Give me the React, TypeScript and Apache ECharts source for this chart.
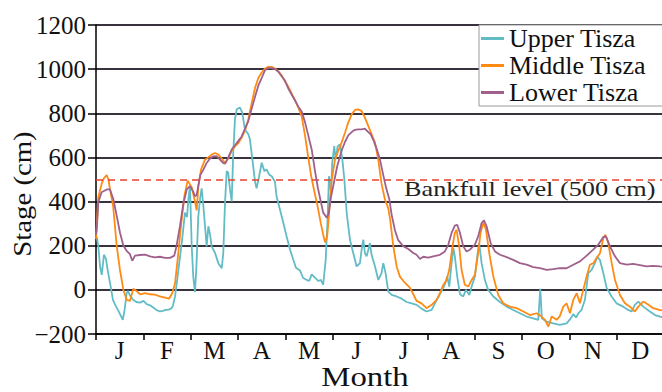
import React, { useEffect, useRef } from "react";
import * as echarts from "echarts";

// ---- data ----
const months = ["J", "F", "M", "A", "M", "J", "J", "A", "S", "O", "N", "D"];
const seriesNames = ["Upper Tisza", "Middle Tisza", "Lower Tisza"];
const yMin = -200;
const yMax = 1200;
const yStep = 200;
const bankfullLevel = 500;
const bankfullLabel = "Bankfull level (500 cm)";
const yAxisTitle = "Stage (cm)";
const xAxisTitle = "Month";

// [day of year, stage in cm]
const upperTisza: [number, number][] = [
  [0.5, 240], [1.5, 197], [2.6, 106], [3.7, 68], [5.1, 159], [6.4, 140], [7.5, 90], [9, 32],
  [10.9, -45], [12.5, -70], [14.1, -91], [16, -118], [17.2, -136], [18.4, -90], [19.7, -15],
  [20.5, -5], [21.8, -25], [23.8, -45], [26, -55], [28.3, -58], [30.5, -50], [32.6, -65],
  [34.7, -70], [36.8, -80], [39, -92], [41.1, -98], [43, -95], [44.3, -92], [46.5, -90],
  [48.6, -83], [49.5, -70], [50.8, -30], [52.7, 76], [55.1, 212], [57.2, 350], [58.5, 330],
  [59.5, 420], [60.4, 470], [61.5, 200], [62.5, 60], [63.6, -10], [64.5, 100], [65.7, 330],
  [67, 420], [67.9, 460], [69, 380], [71.1, 197], [72.2, 288], [73.3, 250], [74.3, 197],
  [76.5, 167], [78.6, 121], [80.8, 98], [81.8, 167], [82.9, 394], [84, 538], [85, 530],
  [86.1, 455], [87.2, 401], [88.2, 621], [89.3, 773], [90.4, 818], [92.5, 826], [94, 803],
  [95.7, 727], [97.9, 705], [98.9, 682], [100.5, 591], [102.2, 490], [103.2, 460], [104.7, 510],
  [106.5, 576], [108.2, 538], [109.7, 545], [111.2, 523], [112.9, 515], [115, 490], [116, 424],
  [118.2, 364], [120.4, 303], [122.5, 242], [124.7, 182], [126.8, 136], [128.5, 100], [131.1, 88],
  [133, 55], [135.4, 45], [137, 40], [138.6, 70], [140.7, 55], [142.9, 40], [144.5, 45],
  [146, 23], [147.6, 136], [148.8, 318], [149.7, 515], [151, 440], [151.8, 576], [153.1, 651],
  [154, 591], [155.3, 651], [156.8, 659], [158.3, 591], [159.6, 500], [161.1, 348], [163.2, 227],
  [165.3, 167], [167.5, 106], [169.6, 121], [170.7, 182], [171.8, 227], [172.8, 167], [173.9, 152],
  [175, 182], [176, 212], [177.1, 159], [179.3, 106], [181.4, 45], [183.5, 76], [184.6, 121],
  [186.1, 76], [187.8, -8], [190, -23], [193.2, -30], [196.4, -40], [199.6, -55], [202.8, -61],
  [206, -68], [209.2, -85], [212.4, -98], [215.7, -91], [217.8, -61], [221, -20], [224.2, 25],
  [225.7, 61], [227, 15], [228.5, 121], [229.6, 190], [230.6, 152], [232.1, 61], [233.9, -20],
  [236, -30], [237.7, 0], [239.9, -23], [241.4, 15], [243.5, 61], [245, 152], [246.2, 212],
  [247.8, 121], [249.9, 45], [252, 0], [255.3, -30], [259.6, -55], [263.8, -76], [268.1, -91],
  [272.4, -106], [276.7, -121], [281, -129], [284.2, -136], [285.5, 5], [286.5, -129],
  [289.6, -144], [293.8, -152], [298.1, -159], [302.4, -152], [305, -130], [306.7, -110],
  [308.5, -125], [310, -106], [312, -91], [314.2, -45], [316.3, 76], [318.5, 91], [320.6, 121],
  [322.1, 150], [323.8, 136], [326, 76], [328.1, 10], [331.3, -30], [334.5, -61], [338.8, -76],
  [342, -91], [344.2, -98], [346.3, -68], [348.5, -53], [351.7, -76], [355.9, -98], [359.2, -114],
  [362.4, -121], [365, -125],
];

const middleTisza: [number, number][] = [
  [0, 230], [1.5, 420], [3.6, 480], [5, 505], [6.9, 520], [8, 500], [9, 455], [11, 380],
  [13.3, 200], [15.4, 90], [17.6, 0], [19.7, -45], [21.8, -50], [23, -20], [24, 5], [26, -5],
  [28.3, -20], [31.5, -15], [34.7, -20], [37.9, -22], [41.1, -30], [44.3, -35], [46.9, -40],
  [49, -15], [50.8, 30], [52.5, 140], [54.6, 290], [56.8, 425], [58.9, 495], [61.5, 465],
  [63.6, 400], [64.7, 360], [65.8, 470], [67.5, 545], [70, 590], [72.2, 600], [74.3, 613],
  [76.5, 620], [78.6, 613], [80.8, 595], [82.9, 575], [85, 595], [87.2, 630], [89.3, 650],
  [91.5, 665], [93.6, 690], [95.7, 720], [97.9, 773], [100, 845], [102.2, 915], [104.3, 960],
  [106.5, 985], [108.6, 1003], [110.7, 1010], [112.9, 1010], [115, 1003], [117.2, 990],
  [119.3, 972], [121.4, 945], [123.6, 920], [125.7, 890], [127.9, 860], [130, 826], [132.2, 785],
  [134.3, 700], [136.4, 600], [138.4, 510], [140.5, 440], [142.5, 375], [144.5, 300], [146, 250],
  [147.2, 215], [148.5, 240], [149.5, 318], [150.5, 420], [151.5, 500], [153.6, 590], [155.7, 630],
  [157.8, 667], [160, 712], [162.1, 758], [164.3, 795], [166.4, 815], [168.5, 818], [170.7, 810],
  [172.8, 780], [175, 742], [177.1, 705], [179.3, 667], [181.4, 590], [183.5, 480], [185.7, 409],
  [187.8, 370], [189, 320], [191, 200], [193.2, 106], [195.3, 60], [197.5, 40], [199.6, 25],
  [201.7, 10], [203.9, -20], [206, -50], [209.2, -61], [212.4, -83], [215.7, -68], [218.9, -45],
  [221, -15], [223.2, 23], [225.3, 45], [227, 91], [229.1, 197], [230.6, 258], [231.7, 273],
  [233.4, 197], [234.9, 91], [237, 23], [239.2, 15], [241.4, 45], [243.5, 68], [245.6, 167],
  [247.1, 258], [248.9, 303], [250.6, 273], [252.7, 167], [255.3, 61], [258.5, -23], [261.7, -61],
  [266, -76], [270.3, -83], [274.6, -98], [278.8, -114], [283.1, -106], [286.3, -121],
  [288.5, -136], [290.7, -167], [292.8, -121], [296, -136], [298, -120], [300.3, -76],
  [302.4, -61], [304.6, -106], [306.7, -45], [308.9, -15], [311, -61], [313.1, 0], [315.3, 61],
  [317.4, 114], [319.6, 121], [321.7, 144], [323.9, 167], [326, 235], [327.3, 250], [329.2, 212],
  [331.4, 121], [333.5, 45], [336.7, -23], [339.9, -61], [343.1, -76], [346.3, -98], [348.5, -76],
  [351.7, -53], [355, -68], [358.1, -83], [362, -91], [365, -95],
];

const lowerTisza: [number, number][] = [
  [0, 250], [0.5, 276], [1.5, 397], [3.6, 442], [6.9, 455], [9, 455], [11.1, 412], [13.3, 336],
  [15.4, 260], [17.6, 200], [19.7, 177], [21.8, 162], [23.3, 132], [25.1, 155], [28.3, 158],
  [31.5, 160], [34.7, 152], [37.9, 147], [41.1, 150], [44.3, 145], [47.6, 145], [50.3, 155],
  [51.8, 200], [54, 291], [56.1, 389], [58.3, 455], [60.4, 470], [62.5, 445], [63.6, 424],
  [64.7, 430], [65.7, 470], [67, 520], [69, 545], [71.1, 575], [73.3, 595], [75.4, 605],
  [77.5, 606], [79.7, 590], [81.8, 574], [83, 572], [85, 600], [87.2, 636], [89.3, 655],
  [91.5, 675], [93.6, 695], [95.7, 730], [97.9, 765], [100, 820], [102.2, 875], [104.3, 925],
  [106.5, 960], [108.6, 995], [110.7, 1005], [112.9, 1005], [115, 1000], [117.2, 988],
  [119.3, 968], [121.4, 948], [123.6, 912], [125.7, 885], [127.9, 858], [130, 830], [132.2, 808],
  [134.3, 760], [136.4, 700], [138.6, 636], [140.7, 540], [142.5, 465], [144, 415], [146, 350],
  [148.3, 327], [149.5, 345], [151, 420], [153, 490], [155, 560], [156.8, 605], [158.3, 640],
  [160, 670], [162.1, 700], [164.3, 715], [166.4, 725], [168.5, 727], [170.7, 727], [172.8, 730],
  [175, 715], [176.5, 705], [178.5, 675], [180.3, 640], [182.5, 590], [184.6, 520], [186.5, 460],
  [188.5, 410], [190, 340], [192.1, 270], [194.2, 225], [197.4, 198], [200.7, 185], [203.9, 167],
  [206, 159], [208.2, 140], [210.3, 150], [213.5, 146], [216.7, 152], [221, 159], [224.2, 174],
  [226.4, 205], [228.5, 258], [230.6, 291], [232.1, 295], [233.9, 258], [236, 197], [238.1, 174],
  [240.3, 182], [243.5, 205], [245.6, 242], [247.8, 303], [249.3, 315], [251, 288], [253.6, 212],
  [256.4, 174], [259.6, 159], [263.9, 148], [268.1, 136], [272.4, 121], [276.7, 114], [281, 103],
  [285.3, 98], [289.6, 91], [293.8, 94], [298.1, 98], [302.4, 98], [306.7, 114], [311, 129],
  [315.3, 155], [319.5, 182], [322.8, 205], [326, 239], [327.7, 242], [330.3, 197], [333.5, 152],
  [336.7, 121], [341, 114], [345.2, 118], [349.5, 112], [353.8, 106], [358.1, 109], [362.4, 106],
  [365, 105],
];

const seriesData = [upperTisza, middleTisza, lowerTisza];
const seriesColors = ["#62bcc6", "#ff8a14", "#a0608c"];

const SERIF = "Liberation Serif";

export default function App() {
  const ref = useRef<HTMLDivElement>(null);

  useEffect(() => {
    if (!ref.current) return;
    const chart = echarts.init(ref.current, undefined, { renderer: "svg" });

    const series: any[] = seriesNames.map((name, i) => ({
      name,
      type: "line",
      xAxisIndex: 1,
      yAxisIndex: 0,
      data: seriesData[i],
      symbol: "none",
      showSymbol: false,
      legendIcon: "rect",
      lineStyle: { color: seriesColors[i], width: 1.8 },
      itemStyle: { color: seriesColors[i] },
      z: 3 + i,
    }));
    series[0].markLine = {
      silent: true,
      symbol: ["none", "none"],
      label: { show: false },
      lineStyle: { color: "#e8412c", type: [7, 5], width: 1.5 },
      data: [{ yAxis: bankfullLevel }],
    };

    chart.setOption({
      animation: false,
      backgroundColor: "#ffffff",
      grid: {
        left: 96,
        top: 25,
        width: 568,
        height: 309,
        containLabel: false,
        outerBoundsMode: "none",
      },
      legend: {
        data: seriesNames,
        orient: "vertical",
        left: 479,
        top: 25,
        icon: "rect",
        itemWidth: 23,
        itemHeight: 3,
        itemGap: 0,
        padding: [0, 20, 0, 2],
        backgroundColor: "#ffffff",
        borderColor: "#9a9a9a",
        borderWidth: 1,
        borderRadius: 0,
        itemStyle: { borderWidth: 0 },
        textStyle: { fontFamily: SERIF, fontSize: 26, color: "#111", lineHeight: 27 },
      },
      xAxis: [
        {
          type: "category",
          data: months,
          gridIndex: 0,
          boundaryGap: true,
          axisLine: { onZero: false, lineStyle: { color: "#000", width: 1.5 } },
          axisTick: { show: true, interval: 0, length: 6, lineStyle: { color: "#000", width: 1.5 } },
          axisLabel: { interval: 0, color: "#111", fontFamily: SERIF, fontSize: 25, margin: 4 },
          splitLine: { show: false },
        },
        { type: "value", min: 0, max: 365, gridIndex: 0, show: false },
      ],
      yAxis: {
        type: "value",
        min: yMin,
        max: yMax,
        interval: yStep,
        axisLine: { show: true, onZero: false, lineStyle: { color: "#000", width: 1.5 } },
        axisTick: { show: true, length: 8, lineStyle: { color: "#000", width: 1.5 } },
        axisLabel: {
          color: "#111",
          fontFamily: SERIF,
          fontSize: 25,
          margin: 10,
          formatter: (v: number) => (v < 0 ? "\u2212" + Math.abs(v) : String(v)),
        },
        splitLine: { show: true, lineStyle: { color: "#38323f", width: 1.8 } },
      },
      series,
      graphic: [
        {
          type: "text",
          x: 23,
          y: 194,
          rotation: Math.PI / 2,
          scaleX: 1.15,
          z: 10,
          style: {
            text: yAxisTitle,
            fontFamily: SERIF,
            fontSize: 25,
            fill: "#111",
            align: "center",
            verticalAlign: "middle",
          },
        },
        {
          type: "text",
          x: 365,
          y: 377,
          scaleX: 1.17,
          z: 10,
          style: {
            text: xAxisTitle,
            fontFamily: SERIF,
            fontSize: 28,
            fill: "#111",
            align: "center",
            verticalAlign: "middle",
          },
        },
        {
          type: "text",
          x: 404,
          y: 189,
          scaleX: 1.25,
          z: 10,
          style: {
            text: bankfullLabel,
            fontFamily: SERIF,
            fontSize: 21,
            fill: "#222",
            align: "left",
            verticalAlign: "middle",
          },
        },
      ],
    });

    return () => chart.dispose();
  }, []);

  return (
    <div
      ref={ref}
      style={{ position: "absolute", left: 0, top: 0, width: 662, height: 392 }}
    />
  );
}
